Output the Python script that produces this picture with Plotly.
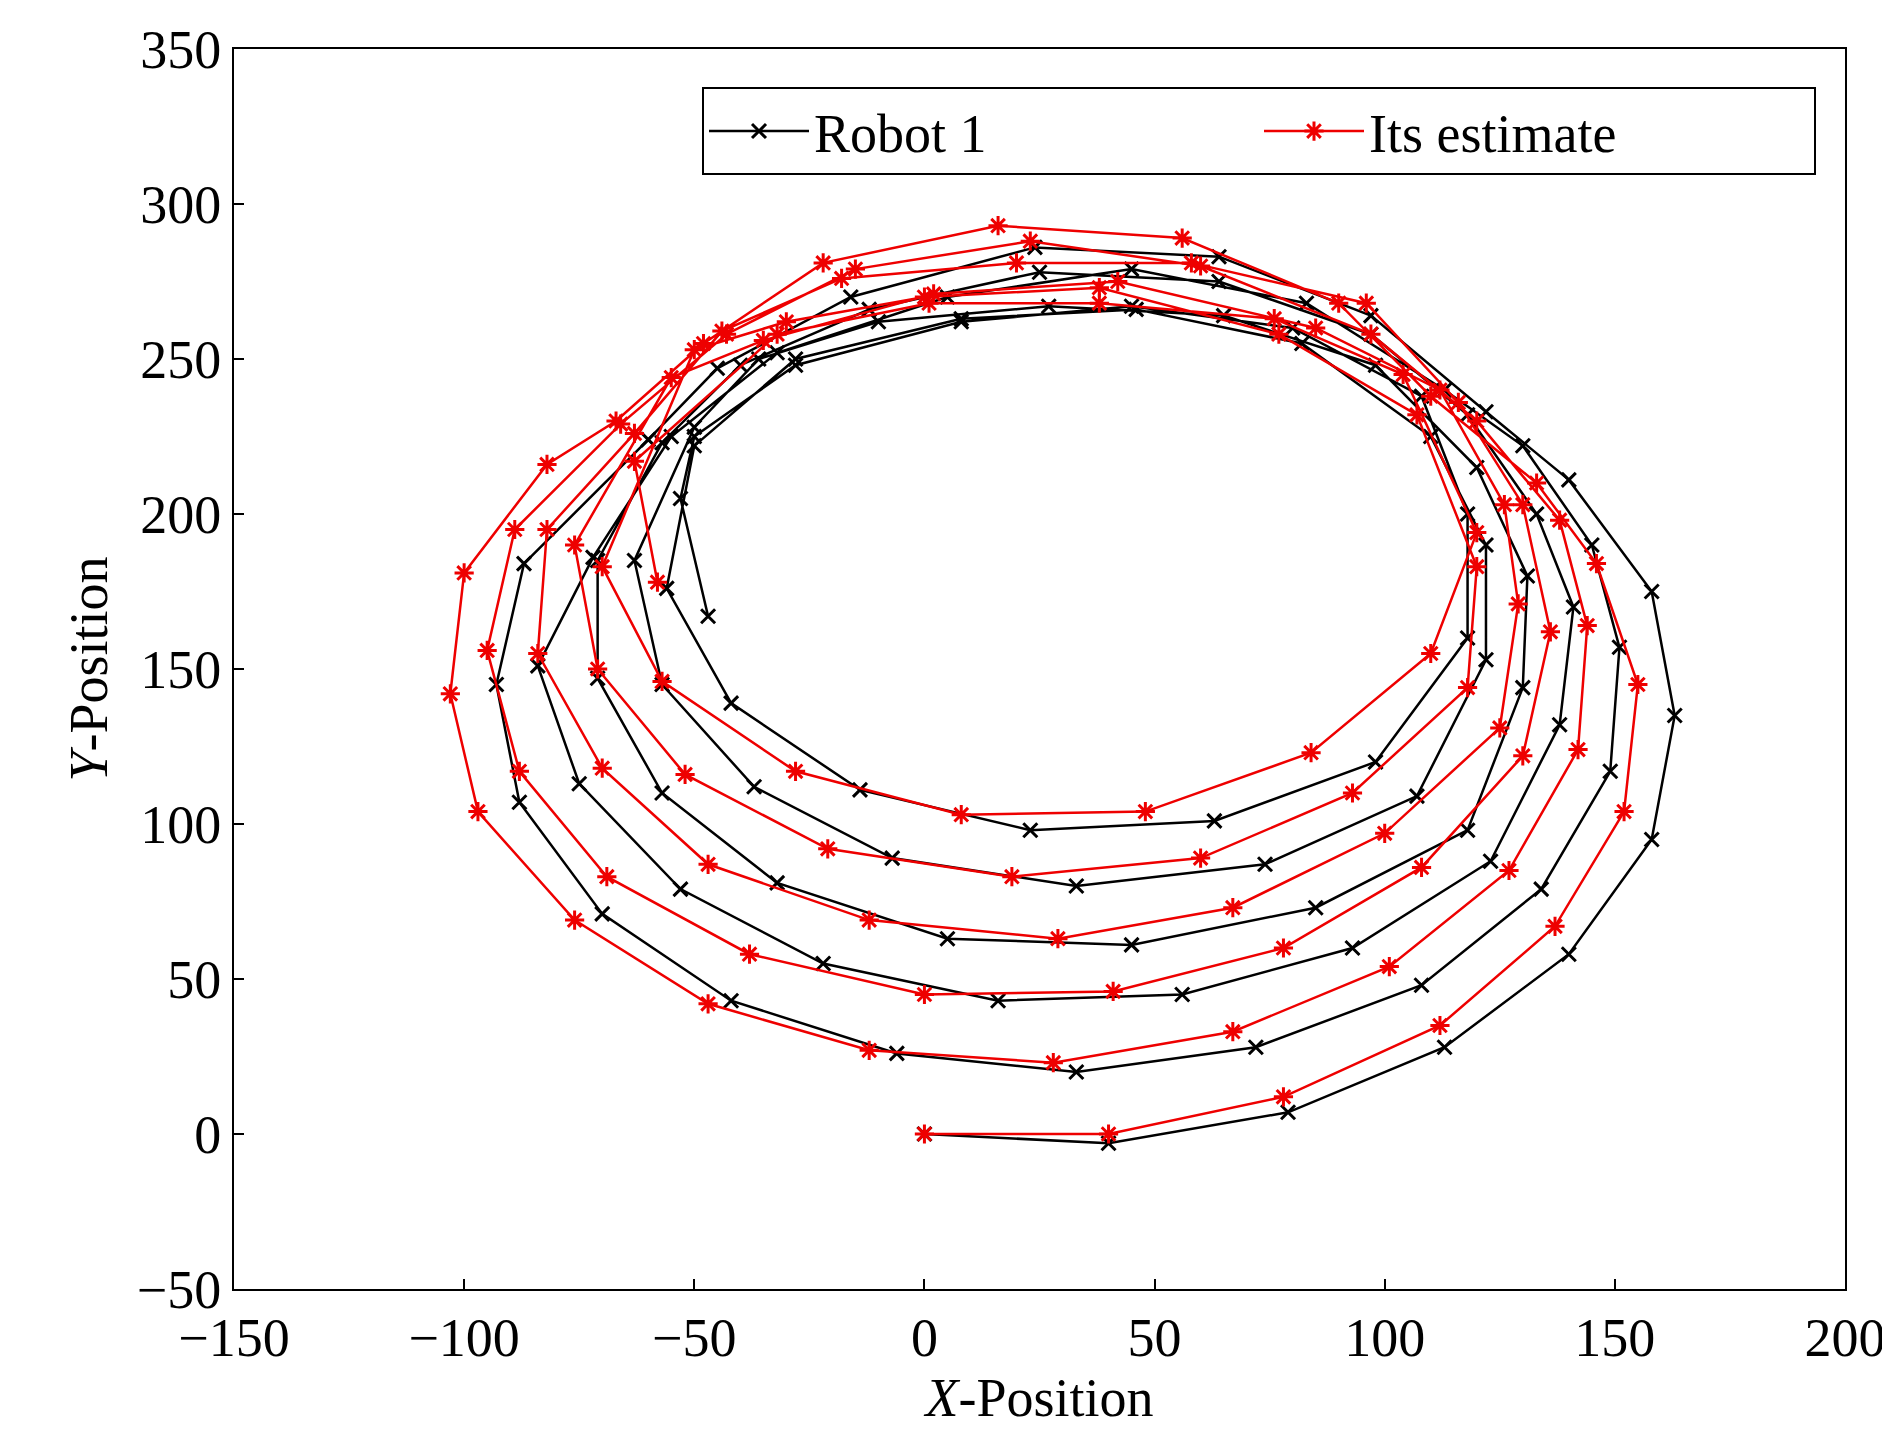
import plotly.graph_objects as go

# Robot 1 true path
robot_x = [0, 40, 79, 113, 140, 158, 163, 158, 140, 122, 97, 64, 24, -16, -45, -60, -87, -93, -88, -70, -42, -6,
           33, 72, 108, 134, 149, 151, 145, 130, 113, 83, 45, 5, -32, -55, -72, -84, -75, -53, -22, 16,
           56, 93, 123, 138, 141, 133, 118, 97, 64, 25, -12, -40, -57, -71, -71, -57, -32, 5,
           45, 85, 118, 130, 131, 120, 98, 65, 27, -10, -36, -50, -63, -57, -37, -7, 33,
           74, 107, 122, 122, 110, 82, 46, 8, -28, -50, -56, -42, -14, 23,
           63, 98, 118, 118, 108, 80, 45, 8, -28, -50, -53, -47]
robot_y = [0, -3, 7, 28, 58, 95, 135, 175, 211, 233, 264, 283, 286, 270, 247, 224, 184, 145, 107, 71, 43, 26,
           20, 28, 48, 79, 117, 157, 190, 222, 240, 268, 279, 270, 252, 225, 186, 151, 113, 79, 55, 43,
           45, 60, 88, 132, 170, 200, 232, 258, 275, 278, 266, 248, 223, 185, 147, 110, 81, 63,
           61, 73, 98, 144, 180, 215, 248, 264, 267, 262, 250, 228, 185, 145, 112, 89, 80,
           87, 109, 153, 190, 225, 255, 266, 263, 250, 222, 176, 139, 111, 98,
           101, 120, 160, 200, 238, 260, 267, 262, 248, 225, 205, 167]

# Its estimate
est_x = [0, 40, 78, 112, 137, 152, 155, 146, 133, 110, 90, 56, 16, -22, -48, -67, -82, -100, -103, -97, -76, -47, -12,
         28, 67, 101, 127, 142, 144, 138, 120, 97, 60, 23, -15, -43, -66, -89, -95, -88, -69, -38, 0,
         41, 78, 108, 130, 136, 130, 116, 96, 58, 20, -18, -44, -63, -82, -84, -70, -47, -12, 29,
         67, 100, 125, 129, 126, 112, 85, 42, 2, -35, -55, -76, -71, -52, -21, 19,
         60, 93, 118, 120, 107, 77, 38, 0, -30, -50, -70, -57, -28, 8,
         48, 84, 110, 120, 104, 76, 38, 1, -32, -63, -58]
est_y = [0, 0, 12, 35, 67, 104, 145, 184, 210, 238, 268, 289, 293, 281, 255, 230, 216, 181, 142, 104, 69, 42, 27,
         23, 33, 54, 85, 124, 164, 198, 230, 258, 280, 288, 279, 258, 229, 195, 156, 117, 83, 58, 45,
         46, 60, 86, 122, 162, 203, 236, 268, 281, 281, 276, 259, 226, 195, 155, 118, 87, 69, 63,
         73, 97, 131, 171, 203, 240, 260, 275, 271, 256, 244, 190, 150, 116, 92, 83,
         89, 110, 144, 183, 232, 258, 273, 270, 262, 253, 183, 146, 117, 103,
         104, 123, 155, 194, 245, 263, 268, 268, 258, 217, 178]

font = "Liberation Serif"
fs = 54

fig = go.Figure()
fig.add_trace(go.Scatter(name="Robot 1", x=robot_x, y=robot_y, mode="lines+markers",
                         line=dict(color="black", width=2.5),
                         marker=dict(symbol="x-thin-open", size=14, line=dict(color="black", width=3))))
fig.add_trace(go.Scatter(name="Its estimate", x=est_x, y=est_y, mode="lines+markers",
                         line=dict(color="#ee0000", width=2.5),
                         marker=dict(symbol="asterisk-open", size=16, line=dict(color="#ee0000", width=3))))

axis = dict(showgrid=False, zeroline=False, mirror=True, showline=True, linecolor="black", linewidth=2,
            ticks="inside", ticklen=10, tickwidth=2, tickcolor="black",
            tickfont=dict(family=font, size=fs, color="black"))
fig.update_xaxes(range=[-150, 200], dtick=50, title=dict(text="<i>X</i>-Position", font=dict(family=font, size=fs), standoff=8), **axis)
fig.update_yaxes(range=[-50, 350], dtick=50, title=dict(text="<i>Y</i>-Position", font=dict(family=font, size=fs), standoff=12), **axis)

fig.update_layout(width=1890, height=1436, paper_bgcolor="white", plot_bgcolor="white",
                  margin=dict(l=226, r=52, t=31, b=155),
                  font=dict(family=font, color="black"),
                  legend=dict(orientation="h", x=0.982, y=0.969, xanchor="right", yanchor="top",
                              bordercolor="black", borderwidth=2, bgcolor="white",
                              itemwidth=100, entrywidth=440, tracegroupgap=0,
                              font=dict(family=font, size=fs)))
fig.write_html("out.html")
